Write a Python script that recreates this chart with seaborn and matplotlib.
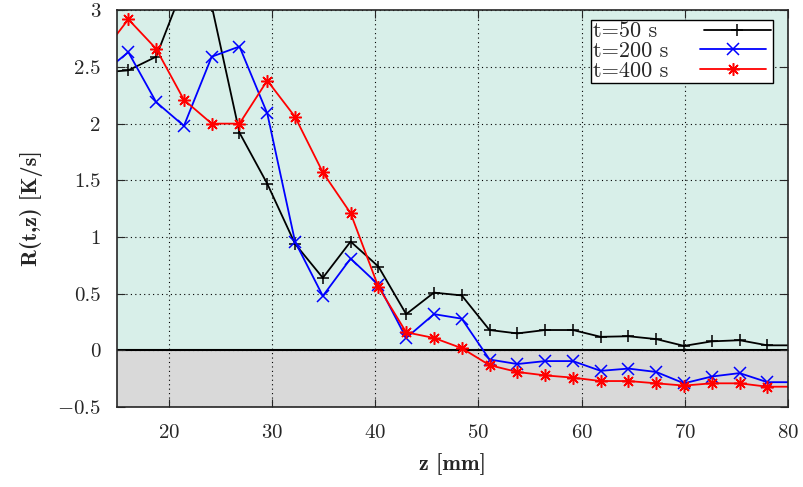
import matplotlib
matplotlib.use("Agg")
import matplotlib.pyplot as plt
import numpy as np
import pandas as pd
import seaborn as sns

# z positions of the measurements [mm]
z_mm = [13.41, 16.10, 18.79, 21.48, 24.17, 26.86, 29.55, 32.24, 34.93, 37.62,
        40.31, 43.00, 45.69, 48.38, 51.07, 53.76, 56.45, 59.14, 61.83, 64.52,
        67.21, 69.90, 72.59, 75.28, 77.97, 80.66]

r_50 = [2.45, 2.47, 2.59, 3.22, 3.04, 1.92, 1.47, 0.94, 0.64, 0.96,
        0.74, 0.32, 0.51, 0.485, 0.18, 0.15, 0.18, 0.18, 0.12, 0.125,
        0.10, 0.04, 0.08, 0.09, 0.045, 0.045]
r_200 = [2.43, 2.63, 2.19, 1.98, 2.59, 2.68, 2.09, 0.96, 0.48, 0.81,
         0.58, 0.11, 0.32, 0.28, -0.08, -0.12, -0.094, -0.094, -0.18, -0.16,
         -0.19, -0.29, -0.23, -0.20, -0.28, -0.28]
r_400 = [2.60, 2.92, 2.66, 2.21, 2.00, 2.00, 2.38, 2.06, 1.57, 1.21,
         0.56, 0.16, 0.11, 0.02, -0.13, -0.19, -0.22, -0.24, -0.27, -0.27,
         -0.29, -0.31, -0.29, -0.29, -0.32, -0.32]

labels = ['t=50 s', 't=200 s', 't=400 s']
colors = ['black', 'blue', 'red']
markers = ['+', 'x', (8, 2, 0)]

x_ticks = [20, 30, 40, 50, 60, 70, 80]
y_ticks = [-0.5, 0, 0.5, 1, 1.5, 2, 2.5, 3]
y_ticklabels = ['$-0.5$', '0', '0.5', '1', '1.5', '2', '2.5', '3']

sns.set_style("ticks")
plt.rcParams['font.family'] = ['cmr10']
plt.rcParams['mathtext.fontset'] = 'cm'
plt.rcParams['axes.formatter.use_mathtext'] = True

df = pd.DataFrame({'z': z_mm * 3,
                   'R': r_50 + r_200 + r_400,
                   't': [labels[0]] * len(z_mm) + [labels[1]] * len(z_mm) + [labels[2]] * len(z_mm)})

fig = plt.figure(figsize=(8.04, 4.87), dpi=100)
ax = fig.add_axes([0.1455, 0.164, 0.835, 0.815])

# shaded regions above / below zero
ax.axhspan(0, 3, color='#d8efe9', zorder=0)
ax.axhspan(-0.5, 0, color='#d9d9d9', zorder=0)
ax.axhline(0, color='black', lw=1.5, zorder=1)

for lab, c, m in zip(labels, colors, markers):
    sns.lineplot(data=df[df['t'] == lab], x='z', y='R', ax=ax, color=c, marker=m,
                 markersize=9, markeredgewidth=1.1, markeredgecolor=c, markerfacecolor=c,
                 linewidth=1.3, label=lab, sort=False, estimator=None, zorder=3)

ax.set_xlim(15, 80)
ax.set_ylim(-0.5, 3)
ax.set_xticks(x_ticks)
ax.set_yticks(y_ticks)
ax.set_yticklabels(y_ticklabels)
ax.grid(True, color='black', linestyle=(0, (1, 3)), linewidth=0.8, zorder=2)
ax.set_axisbelow(False)
ax.tick_params(direction='in', top=True, right=True, length=6, labelsize=15)
ax.tick_params(axis='y', pad=12)
ax.tick_params(axis='x', pad=12)
for s in ax.spines.values():
    s.set_linewidth(1.2)
    s.set_zorder(4)

ax.set_xlabel('z [mm]', fontsize=16, family='cmb10', labelpad=8)
ax.set_ylabel('R(t,z) [K/s]', fontsize=16, family='cmb10', labelpad=10)

leg = ax.legend(loc='upper right', bbox_to_anchor=(0.987, 0.993), markerfirst=False,
                fancybox=False, framealpha=1, edgecolor='black', fontsize=16,
                handlelength=3.0, borderpad=0.1, labelspacing=0.0, handletextpad=1.4,
                borderaxespad=0.3)
leg.get_frame().set_linewidth(1.0)
# left-align legend text like gnuplot, keep the samples in a column
texts = leg.get_texts()
fig.canvas.draw()
r = fig.canvas.get_renderer()
widths = [t.get_window_extent(r).width for t in texts]
for vp in leg._legend_handle_box.get_children():
    vp.align = 'left'
for row in leg._legend_handle_box.get_children()[0].get_children():
    kids = row.get_children()
    txt_box = kids[0]
    w = txt_box.get_window_extent(r).width
    row.sep = row.sep + (max(widths) - w)

fig.savefig('out.png', dpi=100)
